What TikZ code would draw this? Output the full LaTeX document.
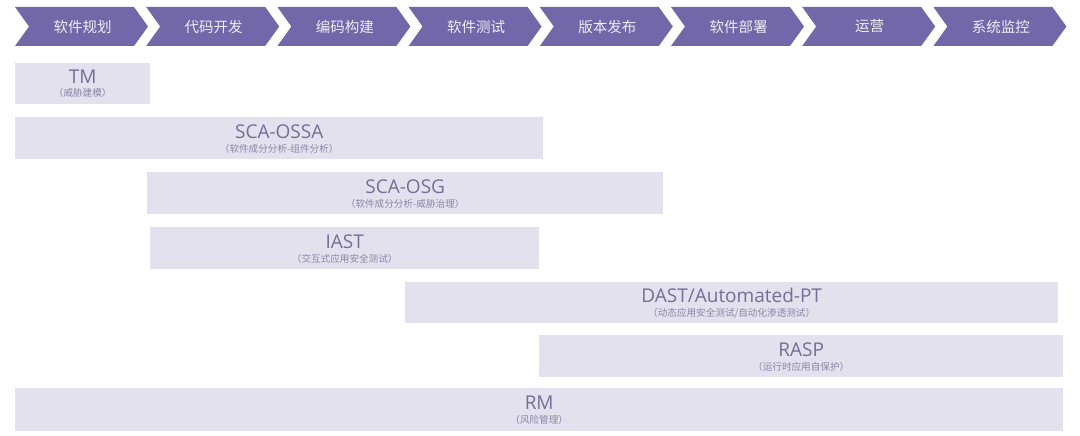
\documentclass[tikz,border=0pt]{standalone}
\usepackage{fontspec}
\setmainfont{Open Sans}
\newfontfamily\cjk{Noto Sans CJK SC}
\usetikzlibrary{calc}
\definecolor{chev}{HTML}{7267A8}
\definecolor{chevtxt}{HTML}{EEEDF5}
\definecolor{barfill}{HTML}{E3E1EE}
\definecolor{bartxt}{HTML}{736F95}
\definecolor{subtxt}{HTML}{8A86A6}
\begin{document}
\begin{tikzpicture}[x=1pt,y=-1pt,
  chevtext/.style={inner sep=0pt,text=chevtxt,font=\cjk\fontsize{14.5}{16}\selectfont},
  barbox/.style={fill=barfill,draw=none,inner sep=0pt,anchor=north west},
  bartitle/.style={inner sep=0pt,anchor=base,text=bartxt,font=\fontsize{19}{21}\selectfont},
  barsub/.style={inner sep=0pt,anchor=base,text=subtxt,font=\cjk\fontsize{9.6}{11}\selectfont}]
\useasboundingbox (0,0) rectangle (1080,436);
\fill[white] (0,0) rectangle (1080,436);
\foreach \i/\t in {0/软件规划,1/代码开发,2/编码构建,3/软件测试,4/版本发布,5/软件部署,6/运营,7/系统监控}{
  \pgfmathsetmacro\xx{15+131.2*\i}
  \fill[chev] (\xx,7) -- ++(119,0) -- ++(14,19.5) -- ++(-14,19.5) -- ++(-119,0) -- ++(14,-19.5) -- cycle;
  \node[chevtext] (s\i) at (\xx+67.5,26.5) {\t};
}
% bars
\node[barbox,minimum width=135pt,minimum height=41pt] (tm) at (15,63) {};
\node[bartitle] (tmT) at ($(tm.center)+(0,-0.5)$) {TM};
\node[barsub] (tmS) at ($(tm.center)+(0,12.5)$) {（威胁建模）};

\node[barbox,minimum width=528pt,minimum height=42pt] (ossa) at (15,117) {};
\node[bartitle] (ossaT) at ($(ossa.center)+(0,0)$) {SCA-OSSA};
\node[barsub] (ossaS) at ($(ossa.center)+(0,14)$) {（软件成分分析-组件分析）};

\node[barbox,minimum width=516pt,minimum height=42pt] (osg) at (147,172) {};
\node[bartitle] (osgT) at ($(osg.center)+(0,0)$) {SCA-OSG};
\node[barsub] (osgS) at ($(osg.center)+(0,14)$) {（软件成分分析-威胁治理）};

\node[barbox,minimum width=389pt,minimum height=42pt] (iast) at (150,227) {};
\node[bartitle] (iastT) at ($(iast.center)+(0,0)$) {IAST};
\node[barsub] (iastS) at ($(iast.center)+(0,14)$) {（交互式应用安全测试）};

\node[barbox,minimum width=653pt,minimum height=41pt] (dast) at (405,282) {};
\node[bartitle] (dastT) at ($(dast.center)+(0,0)$) {DAST/Automated-PT};
\node[barsub] (dastS) at ($(dast.center)+(0,14)$) {（动态应用安全测试/自动化渗透测试）};

\node[barbox,minimum width=524pt,minimum height=42pt] (rasp) at (539,335) {};
\node[bartitle] (raspT) at ($(rasp.center)+(0,0)$) {RASP};
\node[barsub] (raspS) at ($(rasp.center)+(0,14)$) {（运行时应用自保护）};

\node[barbox,minimum width=1048pt,minimum height=43pt] (rm) at (15,388) {};
\node[bartitle] (rmT) at ($(rm.center)+(0,0)$) {RM};
\node[barsub] (rmS) at ($(rm.center)+(0,14)$) {（风险管理）};
\end{tikzpicture}
\end{document}
